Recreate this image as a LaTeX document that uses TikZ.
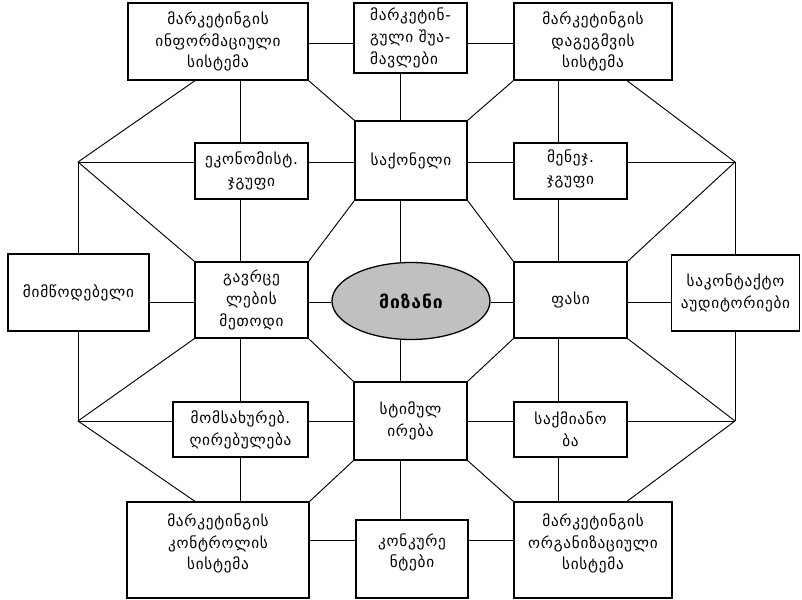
\documentclass[tikz,border=0pt]{standalone}
\usepackage{fontspec}
\setmainfont[LetterSpace=5]{DejaVu Sans}
\usetikzlibrary{positioning,shapes.geometric}
\definecolor{GoalGray}{HTML}{C0C0C0}
\newcommand{\liftup}[1]{\rule[-#1]{0pt}{#1}}
\tikzset{
  mkbox/.style={draw=black, line width=1.1pt, fill=white, align=center, inner sep=2pt, font=\fontsize{13}{18.7}\selectfont},
  mkgoal/.style={draw=black, line width=1.1pt, fill=GoalGray, ellipse, inner sep=0pt, font=\fontsize{15}{18}\selectfont\bfseries},
  mkline/.style={draw=black, line width=0.8pt}
}

\begin{document}
\begin{tikzpicture}[x=0.03cm, y=-0.03cm]
  \useasboundingbox (0,0) rectangle (802,600);
  % grid of the connectors
  \coordinate (colA) at (78,0);
  \coordinate (colB) at (240,0);
  \coordinate (colC) at (400,0);
  \coordinate (colD) at (558,0);
  \coordinate (colE) at (735,0);
  \coordinate (colL) at (195,0);
  \coordinate (colR) at (627,0);
  \coordinate (rowA) at (0,43);
  \coordinate (rowB) at (0,162);
  \coordinate (rowC) at (0,302);
  \coordinate (rowD) at (0,421);
  \coordinate (rowE) at (0,540);
  \coordinate (jTL) at (78,162);
  \coordinate (jTR) at (735,162);
  \coordinate (jBL) at (78,421);
  \coordinate (jBR) at (735,421);

  % top row
  \node[mkbox, minimum width=5.40cm, minimum height=2.31cm] (info) at (218,41.5) {მარკეტინგის\\ინფორმაციული\\სისტემა};
  \node[mkbox, align=left, minimum width=3.39cm, minimum height=2.10cm] (mediators) at (410.5,38) {მარკეტინ-\\გული შუა-\\მავლები};
  \node[mkbox, minimum width=4.74cm, minimum height=2.31cm] (plan) at (593,41.5) {მარკეტინგის\\დაგეგმვის\\სისტემა};
  % second row
  \node[mkbox, minimum width=3.39cm, minimum height=1.68cm] (eko) at (251.5,171) {ეკონომისტ.\\ჯგუფი};
  \node[mkbox, minimum width=3.36cm, minimum height=2.37cm] (goods) at (411,160.5) {საქონელი};
  \node[mkbox, minimum width=3.39cm, minimum height=1.68cm] (mgmt) at (570.5,171) {მენეჯ.\\ჯგუფი\liftup{0.25cm}};
  % middle row
  \node[mkbox, minimum width=4.23cm, minimum height=2.31cm] (supplier) at (78.5,292.5) {მიმწოდებელი};
  \node[mkbox, minimum width=3.39cm, minimum height=2.28cm] (distrib) at (251.5,300) {გავრცე\\ლების\\მეთოდი};
  \node[mkgoal, minimum width=4.74cm, minimum height=2.31cm] (goal) at (411,301) {მიზანი};
  \node[mkbox, minimum width=3.39cm, minimum height=2.28cm] (price) at (570.5,300) {ფასი};
  \node[mkbox, minimum width=3.84cm, minimum height=2.28cm] (contact) at (735.5,293) {საკონტაქტო\\აუდიტორიები};
  % fourth row
  \node[mkbox, minimum width=4.05cm, minimum height=1.65cm] (service) at (240.5,429.5) {მომსახურებ.\\ღირებულება};
  \node[mkbox, minimum width=3.39cm, minimum height=2.34cm] (stim) at (410.5,421) {სტიმულ\\ირება};
  \node[mkbox, minimum width=3.39cm, minimum height=1.65cm] (activity) at (570.5,429.5) {საქმიანო\\ბა};
  % bottom row
  \node[mkbox, minimum width=5.46cm, minimum height=2.88cm] (control) at (218,550) {მარკეტინგის\\კონტროლის\\სისტემა\liftup{0.5cm}};
  \node[mkbox, minimum width=3.36cm, minimum height=2.34cm] (compet) at (412,559) {კონკურე\\ნტები\liftup{0.5cm}};
  \node[mkbox, minimum width=4.74cm, minimum height=2.88cm] (org) at (593,550) {მარკეტინგის\\ორგანიზაციული\\სისტემა\liftup{0.5cm}};

  % horizontal connectors
  \draw[mkline] (info.east |- rowA) -- (mediators.west |- rowA);
  \draw[mkline] (mediators.east |- rowA) -- (plan.west |- rowA);
  \draw[mkline] (jTL) -- (eko.west |- rowB);
  \draw[mkline] (eko.east |- rowB) -- (goods.west |- rowB);
  \draw[mkline] (goods.east |- rowB) -- (mgmt.west |- rowB);
  \draw[mkline] (mgmt.east |- rowB) -- (jTR);
  \draw[mkline] (supplier.east |- rowC) -- (distrib.west |- rowC);
  \draw[mkline] (distrib.east |- rowC) -- (goal.west |- rowC);
  \draw[mkline] (goal.east |- rowC) -- (price.west |- rowC);
  \draw[mkline] (price.east |- rowC) -- (contact.west |- rowC);
  \draw[mkline] (jBL) -- (service.west |- rowD);
  \draw[mkline] (service.east |- rowD) -- (stim.west |- rowD);
  \draw[mkline] (stim.east |- rowD) -- (activity.west |- rowD);
  \draw[mkline] (activity.east |- rowD) -- (jBR);
  \draw[mkline] (control.east |- rowE) -- (compet.west |- rowE);
  \draw[mkline] (compet.east |- rowE) -- (org.west |- rowE);

  % vertical connectors
  \draw[mkline] (jTL) -- (supplier.north -| colA);
  \draw[mkline] (supplier.south -| colA) -- (jBL);
  \draw[mkline] (jTR) -- (contact.north -| colE);
  \draw[mkline] (contact.south -| colE) -- (jBR);
  \draw[mkline] (info.south -| colB) -- (eko.north -| colB);
  \draw[mkline] (eko.south -| colB) -- (distrib.north -| colB);
  \draw[mkline] (distrib.south -| colB) -- (service.north -| colB);
  \draw[mkline] (service.south -| colB) -- (control.north -| colB);
  \draw[mkline] (mediators.south -| colC) -- (goods.north -| colC);
  \draw[mkline] (goods.south -| colC) -- (goal.north -| colC);
  \draw[mkline] (goal.south -| colC) -- (stim.north -| colC);
  \draw[mkline] (stim.south -| colC) -- (compet.north -| colC);
  \draw[mkline] (plan.south -| colD) -- (mgmt.north -| colD);
  \draw[mkline] (mgmt.south -| colD) -- (price.north -| colD);
  \draw[mkline] (price.south -| colD) -- (activity.north -| colD);
  \draw[mkline] (activity.south -| colD) -- (org.north -| colD);

  % diagonal connectors
  \draw[mkline] (info.south -| colL) -- (jTL);
  \draw[mkline] (jTL) -- (distrib.north west);
  \draw[mkline] (jBL) -- (distrib.south west);
  \draw[mkline] (jBL) -- (control.north -| colL);
  \draw[mkline] (plan.south -| colR) -- (jTR);
  \draw[mkline] (jTR) -- (price.north east);
  \draw[mkline] (jBR) -- (price.south east);
  \draw[mkline] (jBR) -- (org.north -| colR);
  \draw[mkline] (info.south east) -- (goods.north west);
  \draw[mkline] (plan.south west) -- (goods.north east);
  \draw[mkline] (goods.south west) -- (distrib.north east);
  \draw[mkline] (goods.south east) -- (price.north west);
  \draw[mkline] (distrib.south east) -- (stim.north west);
  \draw[mkline] (price.south west) -- (stim.north east);
  \draw[mkline] (stim.south west) -- (control.north east);
  \draw[mkline] (stim.south east) -- (org.north west);
\end{tikzpicture}
\end{document}
